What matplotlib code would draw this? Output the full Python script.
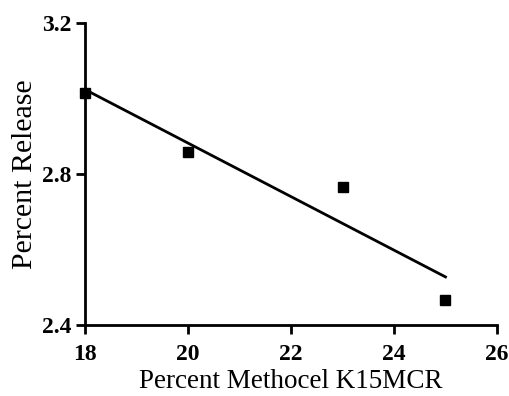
import numpy as np
import matplotlib.pyplot as plt

methocel = [18, 20, 23, 25]
release = [3.014, 2.859, 2.765, 2.466]
xticks = [18, 20, 22, 24, 26]
yticks = [2.4, 2.8, 3.2]

plt.rcParams['font.family'] = 'Liberation Serif'

fig = plt.figure(figsize=(5.10, 3.96), dpi=100)
ax = fig.add_axes([0.1667, 0.1793, 0.9745 - 0.1667, 0.941 - 0.1793])

# linear fit through the points
slope, icpt = np.polyfit(methocel, release, 1)
fx = np.array([methocel[0], methocel[-1]])
ax.plot(fx, slope * fx + icpt, color='black', lw=2, zorder=2)
ax.plot(methocel, release, 's', color='black', ms=7, zorder=3, clip_on=False)

ax.set_xlim(18, 26)
ax.set_ylim(2.4, 3.2)
ax.set_xticks(xticks)
ax.set_yticks(yticks)
ax.set_xticklabels([str(t) for t in xticks], fontweight='bold', fontsize=17)
ax.set_yticklabels(['%.1f' % t for t in yticks], fontweight='bold', fontsize=17)
ax.tick_params(direction='out', length=6.5, width=2, pad=3)
ax.tick_params(axis='x', pad=7)

for s in ['top', 'right']:
    ax.spines[s].set_visible(False)
for s in ['left', 'bottom']:
    ax.spines[s].set_linewidth(2)

ax.set_xlabel('Percent Methocel K15MCR', fontsize=19.5, labelpad=3)
ax.set_ylabel('Percent Release', fontsize=21.5, labelpad=3)

fig.savefig('out.png', dpi=100)
